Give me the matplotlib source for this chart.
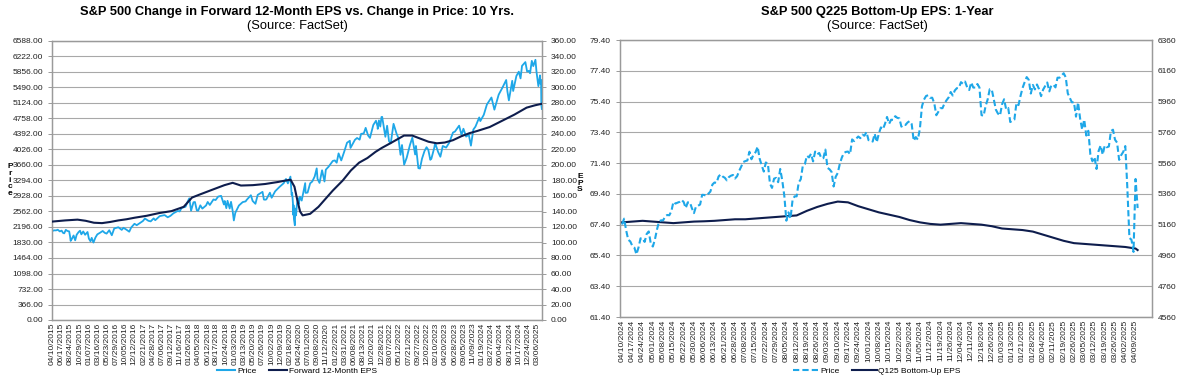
import matplotlib
matplotlib.use("Agg")
import matplotlib.pyplot as plt
import matplotlib.dates as mdates
import pandas as pd
import numpy as np
from matplotlib.lines import Line2D

plt.rcParams['font.family'] = ['Liberation Sans', 'DejaVu Sans']

PRICE_C = '#1EA7E8'
EPS_C = '#0E1D4D'
GRID_C = '#A8A8A8'

# ---------------- Left chart data ----------------
left_price_dates = [
 '2015-04-10','2015-04-24','2015-05-08','2015-05-21','2015-06-05','2015-06-19','2015-06-29','2015-07-08','2015-07-20','2015-07-31',
 '2015-08-14','2015-08-21','2015-08-25','2015-09-04','2015-09-16','2015-09-28','2015-10-09','2015-10-23','2015-11-03','2015-11-13',
 '2015-11-27','2015-12-11','2015-12-29',
 '2016-01-08','2016-01-20','2016-01-29','2016-02-11','2016-02-26','2016-03-11','2016-03-31','2016-04-20','2016-05-06','2016-05-19',
 '2016-06-08','2016-06-27','2016-07-15','2016-08-15','2016-09-09','2016-09-22','2016-10-14','2016-11-04','2016-11-18','2016-12-13','2016-12-30',
 '2017-01-26','2017-02-14','2017-03-01','2017-03-27','2017-04-13','2017-05-05','2017-05-17','2017-06-19','2017-07-26','2017-08-18',
 '2017-09-08','2017-09-29','2017-10-31','2017-11-15','2017-11-30','2017-12-29',
 '2018-01-12','2018-01-26','2018-02-08','2018-02-26','2018-03-09','2018-03-23','2018-04-02','2018-04-18','2018-05-03','2018-05-31',
 '2018-06-12','2018-06-28','2018-07-25','2018-08-10','2018-08-29','2018-09-20','2018-10-11','2018-10-17','2018-10-29','2018-11-07',
 '2018-11-23','2018-12-03','2018-12-14','2018-12-24',
 '2019-01-04','2019-01-31','2019-02-28','2019-03-22','2019-03-29','2019-04-30','2019-05-13','2019-06-03','2019-06-20','2019-07-26',
 '2019-08-05','2019-08-14','2019-08-23','2019-09-19','2019-10-02','2019-10-28','2019-11-29','2019-12-31',
 '2020-01-17','2020-01-31','2020-02-19','2020-02-28','2020-03-03','2020-03-09','2020-03-12','2020-03-13','2020-03-16','2020-03-23',
 '2020-03-26','2020-04-01','2020-04-08','2020-04-17','2020-04-21','2020-04-30','2020-05-13','2020-05-27','2020-06-08','2020-06-11',
 '2020-06-26','2020-07-15','2020-07-31','2020-08-18','2020-09-02','2020-09-08','2020-09-23','2020-10-12','2020-10-30','2020-11-09',
 '2020-11-30','2020-12-31',
 '2021-01-15','2021-01-29','2021-02-12','2021-03-04','2021-03-26','2021-04-16','2021-05-07','2021-05-12','2021-06-14','2021-06-30',
 '2021-07-19','2021-07-30','2021-08-19','2021-09-02','2021-09-20','2021-10-04','2021-10-29','2021-11-18','2021-11-30','2021-12-01',
 '2021-12-10','2021-12-20','2021-12-29',
 '2022-01-03','2022-01-27','2022-02-09','2022-02-23','2022-03-08','2022-03-29','2022-04-21','2022-05-04','2022-05-20','2022-05-31',
 '2022-06-16','2022-07-05','2022-07-29','2022-08-16','2022-09-06','2022-09-12','2022-09-30','2022-10-12','2022-10-27','2022-11-15',
 '2022-11-30','2022-12-13','2022-12-28',
 '2023-01-05','2023-01-27','2023-02-02','2023-02-24','2023-03-13','2023-03-31','2023-04-25','2023-05-19','2023-06-15','2023-06-30',
 '2023-07-31','2023-08-18','2023-09-01','2023-09-21','2023-10-11','2023-10-27','2023-11-14','2023-11-30','2023-12-28',
 '2024-01-05','2024-01-31','2024-02-23','2024-03-28','2024-04-19','2024-05-21','2024-06-18','2024-07-16','2024-07-25','2024-08-05',
 '2024-08-30','2024-09-06','2024-09-30','2024-10-18','2024-10-31','2024-11-11','2024-12-06','2024-12-19','2024-12-31',
 '2025-01-10','2025-01-23','2025-02-03','2025-02-19','2025-02-27','2025-03-13','2025-03-25','2025-03-28','2025-04-02','2025-04-04',
 '2025-04-08']
left_price_vals = [
 2102,2117,2116,2131,2092,2110,2058,2046,2128,2104,
 2092,1971,1868,1921,1996,1882,2014,2075,2109,2023,
 2090,2012,2078,
 1922,1859,1940,1829,1948,2022,2060,2102,2057,2040,
 2119,2001,2161,2190,2128,2177,2133,2085,2182,2272,2239,
 2297,2338,2396,2342,2329,2399,2357,2453,2477,2425,
 2461,2519,2575,2564,2648,2674,
 2786,2873,2581,2780,2786,2588,2582,2708,2630,2705,
 2787,2716,2846,2833,2914,2931,2728,2810,2641,2814,
 2633,2790,2600,2351,
 2532,2704,2784,2801,2834,2946,2812,2744,2954,3026,
 2845,2840,2847,3006,2887,3039,3141,3231,
 3330,3226,3386,2954,3003,2747,2481,2711,2386,2237,
 2630,2471,2750,2875,2737,2912,2820,3036,3232,3002,
 3009,3227,3271,3390,3580,3332,3237,3535,3270,3550,
 3622,3756,
 3768,3714,3934,3768,3974,4185,4232,4063,4255,4298,
 4258,4395,4406,4537,4358,4300,4605,4705,4567,4513,
 4712,4568,4793,
 4797,4326,4587,4225,4171,4632,4394,4300,3901,4132,
 3667,3831,4130,4305,3908,4110,3586,3577,3807,3992,
 4080,4019,3783,
 3808,4070,4179,3970,3855,4109,4071,4191,4426,4450,
 4589,4370,4516,4330,4376,4117,4496,4568,4783,
 4697,4846,5088,5254,4967,5321,5487,5667,5400,5186,
 5648,5408,5762,5864,5705,6001,6090,5867,5882,
 5827,6119,5995,6144,5861,5522,5777,5581,5671,5074,
 4983]

left_eps_dates = [
 '2015-04-10','2015-07-15','2015-10-15','2015-12-15','2016-02-15','2016-04-15','2016-06-15','2016-08-15','2016-10-15','2016-12-15',
 '2017-03-15','2017-06-15','2017-09-15','2017-12-15','2018-01-15','2018-02-15','2018-04-15','2018-07-15','2018-10-15','2018-12-15',
 '2019-02-15','2019-05-15','2019-08-15','2019-11-15','2020-01-15','2020-02-20','2020-03-20','2020-04-10','2020-05-01','2020-05-20',
 '2020-07-15','2020-09-15','2020-11-15','2020-12-31','2021-03-15','2021-05-15','2021-07-15','2021-09-15','2021-11-15','2021-12-31',
 '2022-03-15','2022-06-15','2022-08-15','2022-10-15','2022-12-15','2023-02-15','2023-04-15','2023-06-15','2023-08-15','2023-10-15',
 '2023-12-15','2024-03-15','2024-06-15','2024-09-15','2024-12-15','2025-02-15','2025-04-08']
left_eps_vals = [
 127,128.5,129.5,128,125.5,125,126.5,128.5,130,132,
 134.5,138,140.5,146,152,158,162,168,174,177,
 173.5,174,175.5,178,180,181,172,155,140,135,
 137,146,158,167,180,193,203,209,217,222,
 229,238,238,234,230,228,229,232,237,241,
 244,249,257,265,274,277,279]

left_xlabels = ['04/10/2015','06/17/2015','08/24/2015','10/29/2015','01/07/2016','03/16/2016','05/23/2016','07/29/2016',
 '10/05/2016','12/12/2016','02/21/2017','04/28/2017','07/06/2017','09/12/2017','11/16/2017','01/26/2018','04/05/2018',
 '06/12/2018','08/17/2018','10/24/2018','01/03/2019','03/13/2019','05/20/2019','07/26/2019','10/02/2019','12/09/2019',
 '02/18/2020','04/24/2020','07/01/2020','09/08/2020','11/12/2020','01/22/2021','03/31/2021','06/08/2021','08/13/2021',
 '10/20/2021','12/28/2021','03/07/2022','05/12/2022','07/21/2022','09/27/2022','12/02/2022','02/10/2023','04/20/2023',
 '06/28/2023','09/05/2023','11/09/2023','01/19/2024','03/27/2024','06/04/2024','08/12/2024','10/17/2024','12/24/2024',
 '03/06/2025']
left_price_ticks = [366 * i for i in range(19)]
left_eps_ticks = [20 * i for i in range(19)]

# ---------------- Right chart data ----------------
right_price = [
 # Apr 2024 (from 04/10)
 5161,5199,5123,5062,5051,5022,5011,4967,5011,5071,5072,5048,5100,5116,5036,
 # May
 5018,5064,5128,5181,5188,5188,5214,5223,5221,5247,5308,5297,5303,5308,5321,5307,5268,5305,5306,5267,5235,5278,
 # Jun
 5283,5291,5354,5353,5347,5361,5375,5421,5434,5432,5473,5487,5473,5465,5448,5469,5478,5483,5460,
 # Jul
 5475,5509,5537,5567,5573,5577,5634,5585,5615,5631,5667,5588,5545,5505,5564,5556,5427,5399,5459,5464,5436,5522,
 # Aug
 5447,5347,5186,5240,5200,5319,5344,5344,5434,5455,5543,5554,5608,5597,5621,5571,5635,5617,5626,5592,5592,5648,
 # Sep
 5529,5520,5503,5408,5471,5496,5554,5596,5626,5633,5635,5618,5714,5703,5719,5733,5722,5745,5738,5762,
 # Oct
 5709,5710,5700,5751,5696,5751,5792,5780,5815,5860,5815,5842,5841,5865,5854,5851,5797,5810,5808,5824,5833,5814,5705,
 # Nov
 5729,5713,5783,5929,5973,5996,6001,5984,5985,5949,5871,5894,5917,5917,5949,5969,5987,6022,5999,6032,
 # Dec
 6047,6050,6086,6075,6090,6053,6035,6084,6051,6051,6074,6051,5872,5867,5931,5974,6040,6038,5971,5907,5882,
 # Jan 2025
 5869,5942,5975,5909,5918,5827,5836,5843,5950,5937,5997,6049,6086,6119,6101,6012,6068,6039,6071,6041,
 # Feb
 5995,6038,6061,6084,6026,6066,6069,6052,6115,6115,6130,6144,6118,6013,5983,5955,5956,5862,5955,
 # Mar
 5850,5778,5843,5739,5770,5615,5572,5599,5522,5639,5675,5615,5675,5663,5668,5768,5777,5712,5693,5581,5612,
 # Apr 2025
 5633,5671,5397,5074,5062,4983,5457,5268]

right_eps_idx = list(range(0, 251, 5)) + [251]
right_eps = [
 67.55,67.60,67.65,67.60,67.55,67.50,67.55,67.60,67.62,67.65,
 67.70,67.75,67.75,67.80,67.85,67.90,67.95,68.00,68.30,68.55,
 68.75,68.90,68.85,68.60,68.40,68.20,68.05,67.90,67.70,67.55,
 67.45,67.40,67.45,67.50,67.45,67.40,67.30,67.15,67.10,67.05,
 66.95,66.75,66.55,66.35,66.20,66.15,66.10,66.05,66.00,65.95,
 65.85,65.75]

right_xlabels = ['04/10/2024','04/17/2024','04/24/2024','05/01/2024','05/08/2024','05/15/2024','05/22/2024','05/30/2024',
 '06/06/2024','06/13/2024','06/21/2024','06/28/2024','07/08/2024','07/15/2024','07/22/2024','07/29/2024','08/05/2024',
 '08/12/2024','08/19/2024','08/26/2024','09/03/2024','09/10/2024','09/17/2024','09/24/2024','10/01/2024','10/08/2024',
 '10/15/2024','10/22/2024','10/29/2024','11/05/2024','11/12/2024','11/19/2024','11/26/2024','12/04/2024','12/11/2024',
 '12/18/2024','12/26/2024','01/03/2025','01/13/2025','01/21/2025','01/28/2025','02/04/2025','02/11/2025','02/19/2025',
 '02/26/2025','03/05/2025','03/12/2025','03/19/2025','03/26/2025','04/02/2025','04/09/2025']
right_eps_ticks = [61.4 + 2 * i for i in range(10)]
right_price_ticks = [4560 + 200 * i for i in range(10)]

# ---------------- Figure ----------------
W, H = 1177, 378
fig = plt.figure(figsize=(W / 100, H / 100), dpi=100)
fig.patch.set_facecolor('white')

def box(x0, y0, x1, y1):
    return [x0 / W, 1 - y1 / H, (x1 - x0) / W, (y1 - y0) / H]

TFS = 6.0

def style_axes(ax):
    for s in ax.spines.values():
        s.set_color('#9A9A9A')
        s.set_linewidth(0.9)
    ax.tick_params(axis='both', labelsize=TFS, colors='#9A9A9A', labelcolor='#222222', length=3, width=0.7)

# Left
axL = fig.add_axes(box(52, 41, 542, 320))
axL2 = axL.twinx()
pd_dates = mdates.date2num(pd.to_datetime(left_price_dates))
ed_dates = mdates.date2num(pd.to_datetime(left_eps_dates))
axL.plot(pd_dates, left_price_vals, color=PRICE_C, lw=1.3, zorder=3)
axL2.plot(ed_dates, left_eps_vals, color=EPS_C, lw=1.5, zorder=3)
axL.set_ylim(0, 6588)
axL2.set_ylim(0, 360)
axL.set_yticks(left_price_ticks)
axL.set_yticklabels([f'{v:.2f}' for v in left_price_ticks])
axL2.set_yticks(left_eps_ticks)
axL2.set_yticklabels([f'{v:.2f}' for v in left_eps_ticks])
xt = mdates.date2num(pd.to_datetime(left_xlabels, format='%m/%d/%Y'))
axL.set_xticks(xt)
axL.set_xticklabels(left_xlabels, rotation=90)
axL.set_xlim(mdates.date2num(pd.Timestamp('2015-04-08')), mdates.date2num(pd.Timestamp('2025-04-09')))
axL.grid(axis='y', color=GRID_C, lw=0.8)
axL.set_axisbelow(True)
style_axes(axL); style_axes(axL2)
axL.tick_params(axis='x', length=0, pad=2)

fig.text(297 / W, 1 - 12 / H, 'S&P 500 Change in Forward 12-Month EPS vs. Change in Price: 10 Yrs.',
         ha='center', va='center', fontsize=9.3, fontweight='bold')
fig.text(297 / W, 1 - 26 / H, '(Source: FactSet)', ha='center', va='center', fontsize=9.3)
fig.text(10 / W, 1 - 180 / H, 'P\nr\ni\nc\ne', ha='center', va='center', fontsize=6, fontweight='bold', linespacing=0.95)
fig.text(580 / W, 1 - 183 / H, 'E\nP\nS', ha='center', va='center', fontsize=6, fontweight='bold', linespacing=0.95)

hL = [Line2D([], [], color=PRICE_C, lw=1.5), Line2D([], [], color=EPS_C, lw=1.5)]
fig.legend(hL, ['Price', 'Forward 12-Month EPS'], loc='center', bbox_to_anchor=(297 / W, 1 - 371 / H),
           ncol=2, frameon=False, fontsize=6, handlelength=2.2, handletextpad=0.2, columnspacing=1.5)

# Right
axR = fig.add_axes(box(620, 40, 1152, 317))
axR2 = axR.twinx()
idx = np.arange(len(right_price))
axR2.plot(idx, right_price, color=PRICE_C, lw=1.5, ls=(0, (3, 1.5)), zorder=3)
axR.plot(right_eps_idx, right_eps, color=EPS_C, lw=1.5, zorder=3)
axR.set_ylim(61.4, 79.4)
axR2.set_ylim(4560, 6360)
axR.set_yticks(right_eps_ticks)
axR.set_yticklabels([f'{v:.2f}' for v in right_eps_ticks])
axR2.set_yticks(right_price_ticks)
axR2.set_yticklabels([str(v) for v in right_price_ticks])
axR.set_xticks(list(range(0, 5 * len(right_xlabels), 5)))
axR.set_xticklabels(right_xlabels, rotation=90)
axR.set_xlim(-1, 258)
axR.grid(axis='y', color=GRID_C, lw=0.8)
axR.set_axisbelow(True)
style_axes(axR); style_axes(axR2)
axR.tick_params(axis='x', length=0, pad=2)
axR2.tick_params(axis='y', length=0, pad=4)

fig.text(877 / W, 1 - 12 / H, 'S&P 500 Q225 Bottom-Up EPS: 1-Year', ha='center', va='center',
         fontsize=9.3, fontweight='bold')
fig.text(877 / W, 1 - 26 / H, '(Source: FactSet)', ha='center', va='center', fontsize=9.3)

hR = [Line2D([], [], color=PRICE_C, lw=1.5, ls=(0, (3, 1.5))), Line2D([], [], color=EPS_C, lw=1.5)]
fig.legend(hR, ['Price', 'Q125 Bottom-Up EPS'], loc='center', bbox_to_anchor=(877 / W, 1 - 371 / H),
           ncol=2, frameon=False, fontsize=6, handlelength=3.0, handletextpad=0.2, columnspacing=1.5)

fig.savefig('out.png', dpi=100, facecolor='white')
